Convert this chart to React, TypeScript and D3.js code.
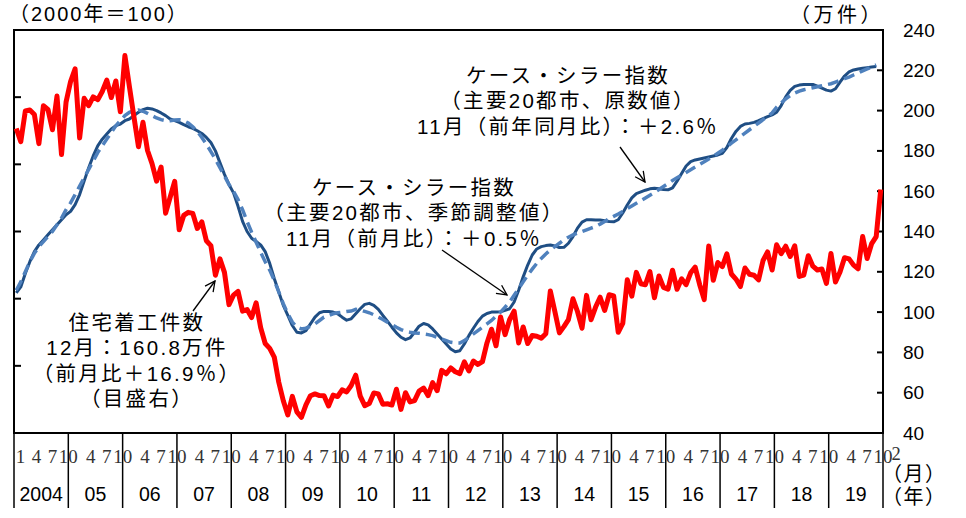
import React, { useEffect, useRef } from 'react';
import * as d3 from 'd3';

// 住宅着工件数（万件, 右軸） 2004年1月〜2019年12月
const housingStarts = [
  191.1, 184.6, 199.8, 200.3, 198.1, 183.6, 202.4, 200.6, 190.5, 207.2, 178.2, 204.2,
  214.4, 220.7, 186.4, 206.1, 202.5, 206.8, 205.4, 209.5, 215.1, 206.5, 214.7, 199.4,
  227.3, 211.9, 196.9, 182.1, 194.2, 180.2, 173.7, 165.0, 172.0, 149.1, 157.0, 164.9,
  140.9, 148.0, 149.5, 149.0, 141.5, 144.8, 135.4, 133.0, 118.3, 126.4, 119.7, 103.7,
  108.4, 110.3, 100.5, 101.3, 97.3, 104.6, 92.3, 84.4, 82.0, 77.7, 65.2, 56.0,
  49.0, 58.2, 50.5, 47.8, 54.0, 58.5, 59.4, 58.6, 58.5, 53.4, 58.8, 58.1,
  61.4, 60.4, 63.6, 68.7, 58.3, 53.6, 54.6, 59.9, 59.4, 54.3, 54.5, 53.9,
  61.7, 51.7, 60.0, 55.4, 56.1, 60.8, 62.3, 58.5, 65.0, 61.0, 71.1, 69.4,
  72.3, 70.4, 69.5, 75.3, 70.8, 75.7, 74.0, 75.4, 84.7, 91.5, 83.3, 97.6,
  88.8, 96.2, 100.5, 84.7, 92.6, 84.4, 88.4, 88.0, 87.1, 89.3, 110.5, 100.3,
  89.7, 92.8, 96.3, 106.6, 100.3, 92.0, 108.3, 96.2, 102.5, 107.4, 100.8, 108.6,
  108.0, 90.0, 94.4, 116.1, 107.9, 119.7, 114.1, 113.6, 120.1, 107.1, 117.9, 112.3,
  111.4, 120.8, 111.3, 116.5, 113.6, 119.5, 122.3, 113.6, 106.2, 132.8, 115.8, 124.6,
  122.6, 128.9, 118.9, 116.4, 112.7, 121.9, 118.8, 118.3, 116.0, 125.6, 129.9, 120.9,
  133.4, 129.0, 132.7, 127.6, 132.9, 117.7, 118.4, 128.0, 122.8, 120.9, 121.4, 114.2,
  129.1, 114.9, 119.9, 127.0, 126.4, 123.3, 121.5, 137.5, 126.6, 134.0, 137.5, 160.8,
];

// ケース・シラー指数 原数値（2000年=100, 左軸） 2004年1月〜2019年11月
const caseShillerRaw = [
  151.7, 153.5, 157.5, 161.0, 164.0, 166.0, 167.5, 169.0, 170.5, 172.0, 173.5, 175.0,
  176.0, 178.0, 181.0, 185.0, 189.0, 192.5, 195.5, 197.5, 199.0, 200.5, 201.5, 202.0,
  203.0, 203.5, 204.5, 205.5, 206.3, 206.7, 206.5, 206.0, 205.3, 204.5, 203.5, 203.0,
  202.5, 201.8, 201.2, 200.7, 200.0, 199.2, 198.0, 196.5, 194.0, 190.5, 187.0, 184.0,
  181.5, 177.5, 173.0, 170.0, 168.0, 167.0, 166.0, 164.0, 160.5, 156.0, 152.0, 148.0,
  145.0, 142.0, 140.0, 139.8, 140.5, 142.5, 144.5, 145.8, 146.2, 146.2, 146.0, 145.5,
  144.5, 143.6, 144.0, 145.5, 147.0, 148.3, 148.6, 148.0, 146.8, 145.0, 143.3, 141.5,
  139.8, 138.5, 137.8, 138.3, 140.0, 141.8, 142.6, 142.2, 141.0, 139.5, 138.0, 136.5,
  135.0, 134.2, 134.5, 136.5, 139.0, 141.2, 143.2, 144.8, 145.6, 146.0, 146.0, 146.1,
  146.5, 147.0, 149.0, 152.5, 156.5, 160.0, 163.0, 164.8, 165.5, 165.8, 166.0, 165.7,
  165.2, 165.3, 166.5, 168.5, 171.0, 172.8, 173.5, 173.5, 173.4, 173.4, 173.2, 173.0,
  172.9, 173.5, 175.5, 177.9, 180.0, 181.3, 181.8, 182.3, 182.7, 182.9, 182.7, 182.5,
  182.4, 183.0, 185.0, 187.3, 189.5, 190.8, 191.3, 191.6, 191.9, 192.2, 192.5, 192.8,
  193.3, 195.0, 197.7, 199.8, 201.3, 202.0, 202.2, 202.5, 203.0, 203.6, 204.2, 204.7,
  205.5, 207.5, 210.1, 212.0, 213.2, 213.6, 213.8, 213.8, 213.8, 213.3, 212.7, 212.1,
  211.8, 212.5, 214.5, 216.3, 217.5, 218.1, 218.4, 218.6, 218.8, 219.0, 219.1,
];

// ケース・シラー指数 季節調整値（2000年=100, 左軸） 2004年1月〜2019年11月
const caseShillerSA = [
  152.5, 155.0, 158.0, 161.0, 163.5, 165.5, 167.0, 168.5, 170.0, 172.0, 174.0, 176.5,
  178.5, 181.0, 183.5, 186.0, 188.5, 191.0, 193.5, 195.5, 197.5, 199.5, 201.5, 203.0,
  204.5, 205.5, 206.0, 206.2, 205.8, 205.2, 204.5, 203.8, 203.3, 203.0, 203.0, 203.2,
  203.3, 203.0, 202.3, 201.2, 199.8, 198.0, 196.0, 193.8, 191.5, 189.0, 186.5, 184.0,
  182.0, 179.5, 176.5, 173.0, 169.8, 166.8, 163.8, 161.0, 158.5, 155.5, 152.0, 148.5,
  145.5, 143.0, 141.5, 141.0, 141.2, 141.8, 142.5, 143.5, 144.5, 145.0, 145.5, 145.8,
  146.0, 146.2, 146.3, 146.8, 146.6, 146.2, 145.8, 145.2, 144.5, 143.8, 143.0, 142.3,
  141.5, 140.8, 140.3, 140.0, 139.8, 139.7, 139.5, 139.3, 139.0, 138.5, 138.0, 137.5,
  137.0, 136.8, 136.8, 137.5, 138.5, 139.5, 140.5, 141.5, 142.5, 143.5, 144.8, 146.0,
  147.5, 149.0, 151.0, 153.0, 155.0, 157.0, 158.8, 160.5, 162.0, 163.3, 164.5, 165.5,
  166.5, 167.5, 168.3, 169.0, 169.5, 170.0, 170.5, 171.0, 171.5, 172.2, 173.0, 173.8,
  174.5, 175.2, 176.0, 176.8, 177.6, 178.4, 179.2, 180.0, 180.8, 181.6, 182.5, 183.4,
  184.3, 185.2, 186.0, 186.8, 187.6, 188.4, 189.2, 190.0, 190.8, 191.6, 192.4, 193.3,
  194.2, 195.2, 196.3, 197.3, 198.3, 199.3, 200.3, 201.3, 202.3, 203.3, 204.3, 205.3,
  207.0, 208.3, 209.5, 210.5, 211.2, 211.8, 212.2, 212.5, 212.8, 213.1, 213.4, 213.7,
  214.0, 214.5, 215.0, 215.5, 216.0, 216.6, 217.2, 217.8, 218.4, 219.0, 219.6,
];

const yearLabels = ['2004', '05', '06', '07', '08', '09', '10', '11', '12', '13', '14', '15', '16', '17', '18', '19'];
const monthLabels = ['1', '4', '7', '10'];
const rightTicks = [40, 60, 80, 100, 120, 140, 160, 180, 200, 220, 240];
const leftTicks = [110, 130, 150, 170, 190, 210, 230];

const annotations = [
  { lines: ['ケース・シラー指数', '（主要20都市、原数値）', '11月（前年同月比）：＋2.6％'], cx: 568, y0: 75, arrow: [620, 147, 645, 182] },
  { lines: ['ケース・シラー指数', '（主要20都市、季節調整値）', '11月（前月比）：＋0.5％'], cx: 414, y0: 187, arrow: [442, 250, 507, 295] },
  { lines: ['住宅着工件数', '12月：160.8万件', '（前月比＋16.9％）', '（目盛右）'], cx: 137, y0: 322, arrow: [193, 311, 215, 281] },
];

const FONT = "'Liberation Sans', 'Noto Sans CJK JP', sans-serif";
const SERIF = "'Liberation Serif', serif";

function App() {
  const ref = useRef<SVGSVGElement>(null);

  useEffect(() => {
    const svg = d3.select(ref.current);
    svg.selectAll('*').remove();

    const left = 14, right = 883, top = 30, bottom = 433, axisBottom = 508;
    const nMonths = yearLabels.length * 12;

    const x = d3.scaleLinear().domain([0, nMonths]).range([left, right]);
    const yL = d3.scaleLinear().domain([110, 230]).range([bottom, top]);
    const yR = d3.scaleLinear().domain([40, 240]).range([bottom, top]);

    // frame
    svg.append('rect')
      .attr('x', left).attr('y', top)
      .attr('width', right - left).attr('height', bottom - top)
      .attr('fill', 'none').attr('stroke', '#000').attr('stroke-width', 2);

    // left ticks (no labels)
    svg.append('g').selectAll('line').data(leftTicks).enter().append('line')
      .attr('x1', left).attr('x2', left + 7)
      .attr('y1', d => yL(d)).attr('y2', d => yL(d))
      .attr('stroke', '#000').attr('stroke-width', 2);

    // right ticks + labels
    svg.append('g').selectAll('line').data(rightTicks).enter().append('line')
      .attr('x1', right - 6).attr('x2', right)
      .attr('y1', d => yR(d)).attr('y2', d => yR(d))
      .attr('stroke', '#000').attr('stroke-width', 2);
    svg.append('g').selectAll('text').data(rightTicks).enter().append('text')
      .attr('x', 903).attr('y', d => yR(d))
      .attr('dominant-baseline', 'central')
      .attr('font-family', FONT).attr('font-size', 19)
      .text(d => d);

    // year dividers
    const bounds = d3.range(yearLabels.length + 1);
    svg.append('g').selectAll('line').data(bounds).enter().append('line')
      .attr('x1', d => x(d * 12)).attr('x2', d => x(d * 12))
      .attr('y1', bottom).attr('y2', axisBottom)
      .attr('stroke', '#000').attr('stroke-width', 1.5);

    // month labels (January of later years is hidden under the previous "10")
    yearLabels.forEach((yl, i) => {
      const mx = d3.scalePoint().domain(monthLabels)
        .range([x(i * 12) + 6.5, x(i * 12 + 12)]);
      const shown = i === 0 ? monthLabels : monthLabels.slice(1);
      svg.append('g').selectAll('text').data(shown).enter().append('text')
        .attr('x', d => mx(d) as number).attr('y', 456)
        .attr('text-anchor', 'middle').attr('dominant-baseline', 'central')
        .attr('font-family', SERIF).attr('font-size', 19)
        .attr('fill', '#333')
        .text(d => d);
      svg.append('text')
        .attr('x', (x(i * 12) + x(i * 12 + 12)) / 2).attr('y', 494)
        .attr('text-anchor', 'middle').attr('dominant-baseline', 'central')
        .attr('font-family', FONT).attr('font-size', 19.5)
        .text(yl);
    });
    svg.append('text')
      .attr('x', x(nMonths) + 13).attr('y', 454)
      .attr('text-anchor', 'middle').attr('dominant-baseline', 'central')
      .attr('font-family', SERIF).attr('font-size', 18.5)
      .attr('fill', '#333')
      .text('2');

    // unit labels
    const unit = (t: string, tx: number, ty: number, ls: number) =>
      svg.append('text').attr('x', tx).attr('y', ty)
        .attr('dominant-baseline', 'central')
        .attr('font-family', FONT).attr('font-size', 20)
        .attr('letter-spacing', ls)
        .text(t);
    unit('（2000年＝100）', 9, 14, 2);
    unit('（万件）', 790, 15, 3.5);
    unit('（月）', 882, 474, 1.5);
    unit('（年）', 882, 497, 1.5);

    // lines
    const lineL = d3.line<number>().x((d, i) => x(i + 0.5)).y(d => yL(d));
    const lineR = d3.line<number>().x((d, i) => x(i + 0.5)).y(d => yR(d));

    svg.append('path').attr('d', lineL(caseShillerRaw) as string)
      .attr('fill', 'none').attr('stroke', '#1f4e84').attr('stroke-width', 3)
      .attr('stroke-linejoin', 'round');
    svg.append('path').attr('d', lineL(caseShillerSA) as string)
      .attr('fill', 'none').attr('stroke', '#4f81bd').attr('stroke-width', 3.5)
      .attr('stroke-dasharray', '11,6');
    svg.append('path').attr('d', lineR(housingStarts) as string)
      .attr('fill', 'none').attr('stroke', '#ff0000').attr('stroke-width', 5)
      .attr('stroke-linejoin', 'round');

    // annotations
    const defs = svg.append('defs');
    defs.append('marker').attr('id', 'arr')
      .attr('viewBox', '0 0 12 12').attr('refX', 11).attr('refY', 6)
      .attr('markerWidth', 12).attr('markerHeight', 12)
      .attr('markerUnits', 'userSpaceOnUse').attr('orient', 'auto')
      .append('path').attr('d', 'M1,1 L11,6 L1,11')
      .attr('fill', 'none').attr('stroke', '#000').attr('stroke-width', 1.3);

    annotations.forEach(a => {
      a.lines.forEach((t, k) => {
        svg.append('text')
          .attr('x', a.cx).attr('y', a.y0 + k * 25.5)
          .attr('text-anchor', 'middle').attr('dominant-baseline', 'central')
          .attr('font-family', FONT).attr('font-size', 20.5)
          .attr('letter-spacing', 2.3)
          .text(t);
      });
      svg.append('line')
        .attr('x1', a.arrow[0]).attr('y1', a.arrow[1])
        .attr('x2', a.arrow[2]).attr('y2', a.arrow[3])
        .attr('stroke', '#000').attr('stroke-width', 1.3)
        .attr('marker-end', 'url(#arr)');
    });
  }, []);

  return (
    <svg ref={ref} width={966} height={518}
      style={{ position: 'absolute', left: 0, top: 0, background: '#fff' }} />
  );
}

export default App;
